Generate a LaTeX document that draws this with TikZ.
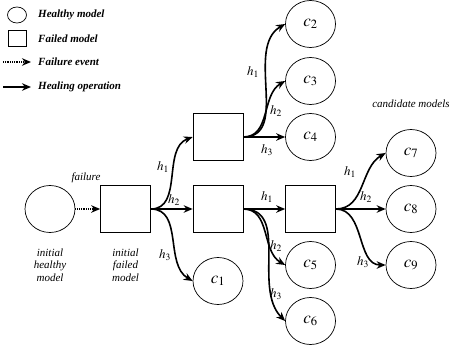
\documentclass[tikz,border=0pt]{standalone}
\usepackage{mathptmx}
\usepackage{fontspec}
\setmainfont{Liberation Serif}
\usetikzlibrary{shapes.geometric,arrows.meta}

\begin{document}
\begin{tikzpicture}[
    x=1pt, y=-1pt,
    >={Stealth[length=9pt,width=7.5pt]},
    healthy/.style={draw, line width=0.7pt, ellipse, minimum width=50pt, minimum height=47pt, inner sep=0pt, font=\fontsize{17}{20}\selectfont},
    failed/.style={draw, line width=0.7pt, rectangle, minimum width=50pt, minimum height=47pt, inner sep=0pt},
    heal/.style={->, line width=1.6pt},
    fail/.style={->, line width=1.6pt, dash pattern=on 1pt off 0.8pt},
    txt/.style={font=\fontsize{11}{12.5}\selectfont\itshape, align=center, inner sep=0pt},
    key/.style={font=\fontsize{11}{13}\selectfont\bfseries\itshape, anchor=west, inner sep=0pt},
    hl/.style={font=\fontsize{13}{15}\selectfont, inner sep=0pt}
]
  \useasboundingbox (0,0) rectangle (449,350);

  % Legend
  \node[draw, line width=0.7pt, ellipse, minimum width=19pt, minimum height=16pt, inner sep=0pt] (keyh) at (17,15) {};
  \node[draw, line width=0.7pt, rectangle, minimum width=18pt, minimum height=16pt, inner sep=0pt] (keyf) at (17,38) {};
  \coordinate (kfa) at (3,62);
  \coordinate (kfb) at (31,62);
  \coordinate (kha) at (3,87);
  \coordinate (khb) at (31,87);
  \draw[fail] (kfa) -- (kfb);
  \draw[heal] (kha) -- (khb);
  \node[key] (keyht) at (38,15) {Healthy model};
  \node[key] (keyft) at (38,39) {Failed model};
  \node[key] (keyfa) at (38,62) {Failure event};
  \node[key] (keyha) at (38,87) {Healing operation};

  % Models
  \node[healthy] (init) at (50,209) {};
  \node[failed] (fail0) at (125.5,209) {};
  \node[failed] (up) at (218,137) {};
  \node[failed] (mid) at (218,209) {};
  \node[failed] (rgt) at (310.5,209) {};

  \node[healthy] (c1) at (218,281) {$c_1$};
  \node[healthy] (c2) at (310.5,24) {$c_2$};
  \node[healthy] (c3) at (310.5,81) {$c_3$};
  \node[healthy] (c4) at (310.5,137) {$c_4$};
  \node[healthy] (c5) at (310.5,265) {$c_5$};
  \node[healthy] (c6) at (310.5,321) {$c_6$};
  \node[healthy] (c7) at (411,153) {$c_7$};
  \node[healthy] (c8) at (411,209) {$c_8$};
  \node[healthy] (c9) at (411,265) {$c_9$};

  % Texts
  \node[txt] (tfail) at (86,178) {failure};
  \node[txt] (tinit) at (50,265) {initial\\healthy\\model};
  \node[txt] (tinitf) at (125.5,265) {initial\\failed\\model};
  \node[txt] (tcand) at (411,104) {candidate models};

  % Failure event
  \draw[fail] (init) -- (fail0);

  % Healing operations
  \draw[heal] (fail0.east) to[out=0, in=200] (up.west);
  \draw[heal] (fail0) -- (mid);
  \draw[heal] (fail0.east) to[out=0, in=150] (c1.west);
  \node[hl] at (163,167) {$h_1$};
  \node[hl] at (174,200) {$h_2$};
  \node[hl] at (165,255) {$h_3$};

  \draw[heal] (up.east) to[out=0, in=210] (c2.west);
  \draw[heal] (up.east) to[out=0, in=210] (c3.west);
  \draw[heal] (up) -- (c4);
  \node[hl] at (253,72) {$h_1$};
  \node[hl] at (276,111) {$h_2$};
  \node[hl] at (267,150) {$h_3$};

  \draw[heal] (mid) -- (rgt);
  \draw[heal] (mid.east) to[out=0, in=150] (c5.west);
  \draw[heal] (mid.east) to[out=0, in=135] (c6.west);
  \node[hl] at (267,197) {$h_1$};
  \node[hl] at (276,246) {$h_2$};
  \node[hl] at (276,294) {$h_3$};

  \draw[heal] (rgt.east) to[out=0, in=210] (c7.west);
  \draw[heal] (rgt) -- (c8);
  \draw[heal] (rgt.east) to[out=0, in=180] (c9.west);
  \node[hl] at (350,172) {$h_1$};
  \node[hl] at (366,197) {$h_2$};
  \node[hl] at (363,262) {$h_3$};
\end{tikzpicture}
\end{document}
